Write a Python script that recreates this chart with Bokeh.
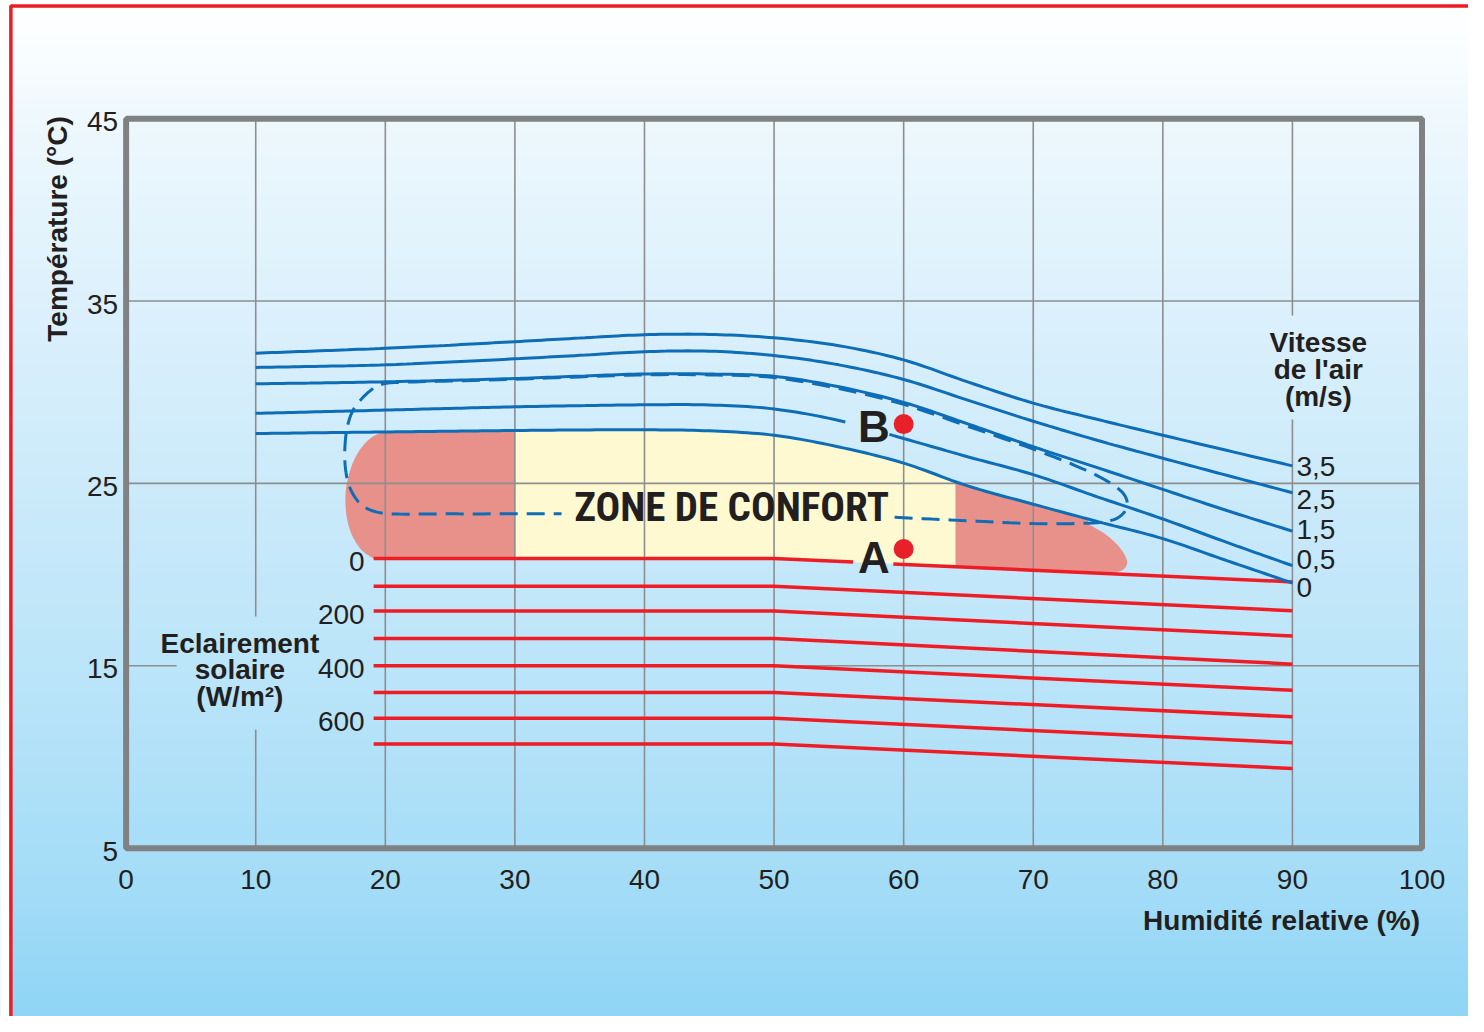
import numpy as np
from bokeh.plotting import figure
from bokeh.models import Range1d
from bokeh.embed import file_html
from bokeh.resources import INLINE
from bokeh.core.properties import value

# ---------------- data ----------------
x_ticks = [0, 10, 20, 30, 40, 50, 60, 70, 80, 90, 100]
y_ticks = [5, 15, 25, 35, 45]

# air-speed curves (m/s) : temperature vs relative humidity
rh = [10, 15, 20, 25, 30, 35, 40, 45, 50, 55, 60, 65, 70, 75, 80, 85, 90]
v35 = [32.14, 32.27, 32.41, 32.58, 32.77, 32.97, 33.15, 33.17, 32.98, 32.55, 31.77, 30.55, 29.40, 28.50, 27.64, 26.80, 25.96]
v25 = [31.36, 31.42, 31.50, 31.65, 31.83, 32.02, 32.22, 32.25, 32.01, 31.50, 30.70, 29.55, 28.41, 27.35, 26.38, 25.43, 24.49]
v15 = [30.46, 30.51, 30.57, 30.65, 30.75, 30.88, 31.00, 31.00, 30.87, 30.30, 29.44, 28.25, 27.01, 25.85, 24.67, 23.50, 22.38]
v05 = [28.84, 28.93, 29.02, 29.11, 29.20, 29.26, 29.31, 29.30, 29.08, 28.45, 27.46, 26.45, 25.48, 24.25, 23.05, 21.75, 20.49]
v00 = [27.73, 27.78, 27.82, 27.86, 27.90, 27.93, 27.94, 27.88, 27.64, 27.00, 26.11, 24.85, 23.86, 22.90, 21.97, 20.75, 19.54]
speed_labels = ["3,5", "2,5", "1,5", "0,5", "0"]

# solar irradiance lines (W/m2)
irr_rh = [19.1, 50, 90]
irr_t_flat = [20.88, 19.36, 18.00, 16.50, 15.00, 13.54, 12.12, 10.71]
irr_t_end = [19.60, 18.02, 16.63, 15.09, 13.66, 12.20, 10.78, 9.37]
irr_labels = ["0", "", "200", "", "400", "", "600", ""]

# extended comfort zone (dashed outline)
dash_rh = [59.3, 65, 70, 74.3, 75.5, 76.5, 77.1, 77.25, 77.0, 76.2, 75.0, 73.0, 70, 65, 60, 55, 50, 45,
           40, 35, 30, 25, 21.5, 20.2, 19.4, 18.7, 18.0, 17.5, 17.1, 16.9, 16.9, 17.15, 17.6, 18.2, 19.0,
           20.1, 25, 30, 33.6]
dash_t = [23.14, 22.95, 22.80, 22.82, 22.90, 23.10, 23.50, 23.95, 24.40, 24.90, 25.40, 26.05, 26.88, 28.12,
          29.33, 30.20, 30.80, 30.95, 30.95, 30.84, 30.71, 30.61, 30.55, 30.50, 30.35, 30.00, 29.50, 29.00,
          28.20, 27.20, 26.00, 25.00, 24.30, 23.80, 23.50, 23.35, 23.33, 23.33, 23.33]

# comfort zone rounded ends
zone_left_rh = [19.1, 18.3, 17.7, 17.2, 16.95, 16.95, 17.2, 17.6, 18.2, 18.9, 19.6, 20.1]
zone_left_t = [20.88, 21.25, 21.8, 22.6, 23.6, 24.6, 25.5, 26.3, 27.0, 27.5, 27.75, 27.82]
zone_right_rh = [74.3, 75.5, 76.4, 77.0, 77.25, 77.0, 76.3]
zone_right_t = [22.75, 22.25, 21.7, 21.15, 20.65, 20.3, 20.1]
comfort_core = [30, 64]          # yellow part (RH)

points_rh = [60, 60]
points_t = [21.4, 28.25]
points_lbl = ["A", "B"]

# ---------------- layout / styles ----------------
W, H = 1468, 1016
SX, SY = W / 1484, H / 1032
PX = 13.1 * SX       # px per % RH
PY = 18.525 * SY     # px per degC
x_start = -127 * SX / PX
x_end = x_start + W / PX
y_end = 45 + 120 * SY / PY
y_start = y_end - H / PY

BLUE = "#0d6db7"
RED = "#ee1d25"
PINK = "#e8908a"
YELLOW = "#fff9d2"
GRID = "#8c8e90"
FRAME = "#808183"
TXT = "#231f20"
FONT = value("Liberation Sans")
FS = "28px"


def smooth(xs, ys, n=12):
    """centripetal Catmull-Rom through the read points (rendering only)"""
    P = np.column_stack([np.asarray(xs, float) * PX, np.asarray(ys, float) * PY])
    P = np.vstack([2 * P[0] - P[1], P, 2 * P[-1] - P[-2]])
    out = []
    for i in range(len(P) - 3):
        p0, p1, p2, p3 = P[i:i + 4]
        t0 = 0.0
        t1 = t0 + np.linalg.norm(p1 - p0) ** 0.5
        t2 = t1 + np.linalg.norm(p2 - p1) ** 0.5
        t3 = t2 + np.linalg.norm(p3 - p2) ** 0.5
        t = np.linspace(t1, t2, n, endpoint=False)[:, None]
        A1 = (t1 - t) / (t1 - t0) * p0 + (t - t0) / (t1 - t0) * p1
        A2 = (t2 - t) / (t2 - t1) * p1 + (t - t1) / (t2 - t1) * p2
        A3 = (t3 - t) / (t3 - t2) * p2 + (t - t2) / (t3 - t2) * p3
        B1 = (t2 - t) / (t2 - t0) * A1 + (t - t0) / (t2 - t0) * A2
        B2 = (t3 - t) / (t3 - t1) * A2 + (t - t1) / (t3 - t1) * A3
        out.append((t2 - t) / (t2 - t1) * B1 + (t - t1) / (t2 - t1) * B2)
    out.append(P[-2][None])
    C = np.vstack(out)
    return C[:, 0] / PX, C[:, 1] / PY


p = figure(width=W, height=H, x_range=Range1d(x_start, x_end), y_range=Range1d(y_start, y_end),
           x_axis_location=None, y_axis_location=None, min_border=0,
           toolbar_location=None, output_backend="svg")
p.grid.visible = False
p.outline_line_color = None
p.border_fill_color = "white"

# background gradient (reference page y -> colour)
stops_y = [0, 60, 120, 300, 500, 700, 900, 1032]
stops_c = ["#ffffff", "#f9fdff", "#eef8fd", "#ddf1fc", "#cbeafa", "#b9e4f9", "#a3dcf7", "#8fd5f5"]
rgb = np.array([[int(c[i:i + 2], 16) for i in (1, 3, 5)] for c in stops_c], float)
ref_y = (np.arange(H) + 0.5) / SY
cols = np.stack([np.interp(ref_y, stops_y, rgb[:, k]) for k in range(3)], axis=1)
img = np.empty((H, 2), dtype=np.uint32)
view = img.view(dtype=np.uint8).reshape((H, 2, 4))
for k in range(3):
    view[:, :, k] = np.round(cols[:, k])[:, None]
view[:, :, 3] = 255
img = img[::-1]
p.image_rgba(image=[img], x=x_start, y=y_start, dw=x_end - x_start, dh=y_end - y_start)

# white margin + red page border (left and top)
xr = x_start + 10.5 * SX / PX
yr = y_end - 5.5 * SY / PY
p.quad(left=x_start, right=xr, bottom=y_start, top=y_end, fill_color="white", line_color=None)
p.quad(left=x_start, right=x_end, bottom=yr, top=y_end, fill_color="white", line_color=None)
p.line([xr, xr, x_end], [y_start, yr, yr], line_color="#ec1c24", line_width=3.5)


def red_t(i, xs):
    return np.interp(xs, irr_rh, [irr_t_flat[i], irr_t_flat[i], irr_t_end[i]])


sx00, sy00 = smooth(rh, v00)

# comfort zone fill (pink)
m = (sx00 > zone_left_rh[-1]) & (sx00 < zone_right_rh[0])
lx, ly = smooth(zone_left_rh, zone_left_t, 8)
rx_, ry_ = smooth(zone_right_rh, zone_right_t, 8)
bot_x = [zone_right_rh[-1], 50, irr_rh[0]]
zx = list(sx00[m]) + list(rx_) + bot_x[1:] + list(lx)
zt = list(sy00[m]) + list(ry_) + list(red_t(0, bot_x))[1:] + list(ly)
p.patch(zx, zt, fill_color=PINK, line_color=None)

# comfort zone core (yellow)
c0, c1 = comfort_core
m2 = (sx00 > c0) & (sx00 < c1)
yx = [c0] + list(sx00[m2]) + [c1]
yt = list(np.interp(yx, sx00, sy00))
ybx = [c1, 50, c0]
p.patch(yx + ybx, yt + list(red_t(0, ybx)), fill_color=YELLOW, line_color=None)

# grid lines (with gaps under labels)
def seg_with_gap(a0, a1, gap):
    if gap is None:
        return [[a0, a1]]
    return [[a0, gap[0]], [gap[1], a1]]

v_gaps = {10: (11.5, 17.7), 90: (28.5, 34.2)}
h_gaps = {15: (3.9, 19.1)}
gx, gy = [], []
for xv in x_ticks[1:-1]:
    for s in seg_with_gap(y_ticks[0], y_ticks[-1], v_gaps.get(xv)):
        gx.append([xv, xv]); gy.append(s)
for yv in y_ticks[1:-1]:
    for s in seg_with_gap(x_ticks[0], x_ticks[-1], h_gaps.get(yv)):
        gx.append(s); gy.append([yv, yv])
p.multi_line(gx, gy, line_color=GRID, line_width=1.6)

# frame
p.quad(left=x_ticks[0], right=x_ticks[-1], bottom=y_ticks[0], top=y_ticks[-1],
       fill_color=None, line_color=FRAME, line_width=6)


def split_gap(xs, ys, gap):
    xs = np.asarray(xs, float); ys = np.asarray(ys, float)
    if gap is None:
        return list(xs), list(ys)
    g0, g1 = gap
    l = xs < g0; r = xs > g1
    nx = np.concatenate([xs[l], [g0, np.nan, g1], xs[r]])
    ny = np.concatenate([ys[l], [np.interp(g0, xs, ys), np.nan, np.interp(g1, xs, ys)], ys[r]])
    return list(nx), list(ny)

# red irradiance lines
rxs, rys = [], []
for i in range(len(irr_t_flat)):
    xs, ys = split_gap(irr_rh, red_t(i, irr_rh), (56.1, 59.2) if i == 0 else None)
    rxs.append(xs); rys.append(ys)
p.multi_line(rxs, rys, line_color=RED, line_width=3.5)

# blue air speed lines
bx, by = [], []
for k, vals in enumerate([v35, v25, v15, v05, v00]):
    sx_, sy_ = smooth(rh, vals)
    xs, ys = split_gap(sx_, sy_, (55.5, 58.9) if k == 3 else None)
    bx.append(xs); by.append(ys)
p.multi_line(bx, by, line_color=BLUE, line_width=3)

# dashed extended comfort zone
dx, dy = smooth(dash_rh, dash_t, 8)
p.line(dx, dy, line_color=BLUE, line_width=3, line_dash="18 9")

# A / B points
p.scatter(points_rh, points_t, size=20, fill_color="#e8202a", line_color=None)
p.text(x=points_rh, y=points_t, text=points_lbl, x_offset=-14, y_offset=[8, 2],
       text_font=FONT, text_font_style="bold", text_font_size="44px",
       text_align="right", text_baseline="middle", text_color=TXT)

# ZONE DE CONFORT
p.text(x=[46.72], y=[23.73], text=["ZONE DE CONFORT"],
       text_font=value("Roboto Condensed"), text_font_style="bold", text_font_size="41px",
       text_align="center", text_baseline="middle", text_color=TXT)

# tick labels
p.text(x=x_ticks, y=[y_ticks[0]] * len(x_ticks), text=[str(v) for v in x_ticks], y_offset=31,
       text_font=FONT, text_font_size=FS, text_align="center", text_baseline="middle", text_color=TXT)
p.text(x=[x_ticks[0]] * len(y_ticks), y=y_ticks, text=[str(v) for v in y_ticks], x_offset=-8, y_offset=3,
       text_font=FONT, text_font_size=FS, text_align="right", text_baseline="middle", text_color=TXT)

# speed labels at line ends
ends = [v[-1] for v in [v35, v25, v15, v05, v00]]
p.text(x=[rh[-1]] * 5, y=ends, text=speed_labels, x_offset=4, y_offset=[1, 7, -2, -6, 5],
       text_font=FONT, text_font_size=FS, text_align="left", text_baseline="middle", text_color=TXT)

# irradiance labels
il = [(irr_t_flat[i], irr_labels[i]) for i in range(len(irr_labels)) if irr_labels[i]]
p.text(x=[irr_rh[0]] * len(il), y=[a for a, _ in il], text=[b for _, b in il], x_offset=-9, y_offset=3,
       text_font=FONT, text_font_size=FS, text_align="right", text_baseline="middle", text_color=TXT)

# titles
p.text(x=[-5.27], y=[38.95], text=["Température (°C)"], angle=np.pi / 2,
       text_font=FONT, text_font_style="bold", text_font_size=FS,
       text_align="center", text_baseline="middle", text_color=TXT)
p.text(x=[99.85], y=[1.06], text=["Humidité relative (%)"],
       text_font=FONT, text_font_style="bold", text_font_size=FS,
       text_align="right", text_baseline="middle", text_color=TXT)
p.text(x=[92.0], y=[31.24], text=["Vitesse\nde l'air\n(m/s)"], text_line_height=0.86,
       text_font=FONT, text_font_style="bold", text_font_size=FS,
       text_align="center", text_baseline="middle", text_color=TXT)
p.text(x=[8.78], y=[14.77], text=["Eclairement\nsolaire\n(W/m²)"], text_line_height=0.86,
       text_font=FONT, text_font_style="bold", text_font_size=FS,
       text_align="center", text_baseline="middle", text_color=TXT)

open("out.html", "w").write(file_html(p, INLINE))
